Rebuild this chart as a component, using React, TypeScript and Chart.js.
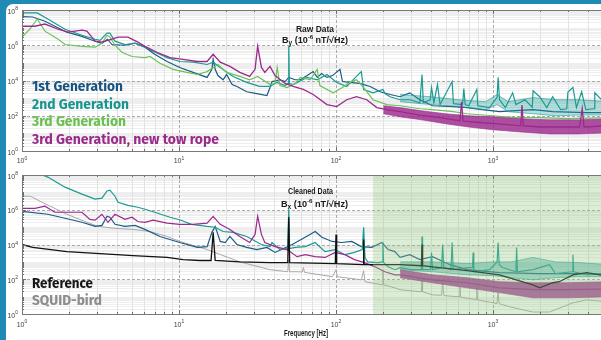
import React, { useEffect, useRef } from "react";
import { Chart, registerables } from "chart.js";

Chart.register(...registerables);

// ---------------- axis ticks ----------------
const xMajorTicks = [1, 10, 100, 1000];
const yMajorTicks = [1, 1e2, 1e4, 1e6, 1e8];
const cleanedBandStartHz = 172;

// ---------------- RAW DATA (top panel) ----------------
const gen1TopF = [1, 1.17, 1.4, 1.93, 2.41, 2.92, 3.23, 3.5, 3.74, 4.5, 5.25, 6.07, 7.0, 8.4, 10.1, 12.3, 15.1, 16.2, 16.5, 17.0, 17.7, 19.1, 20.1, 21.8, 23.4, 27, 31.3, 36.3, 38, 39.1, 44, 47.4, 50, 55, 59.2, 65.5, 71.6, 76, 81, 87.6, 95, 106, 110, 122, 141, 165, 191, 221, 256, 295, 342, 412, 557, 684, 855, 1100, 1800, 2400, 3950, 5500];
const gen1TopV = [4.2e7, 4.0e7, 2.3e7, 5.5e6, 3.2e6, 1.7e6, 1.3e6, 2.2e6, 1.1e6, 1.0e6, 1.3e6, 7.8e5, 3.1e5, 1.2e5, 5.5e4, 2.9e4, 1.5e4, 4.3e4, 1.6e5, 4.3e4, 1.9e4, 1.1e4, 2.2e4, 5.9e3, 4.6e3, 2.3e3, 1.8e3, 1.4e3, 4.0e3, 8.7e3, 1.1e4, 8.7e3, 1.5e4, 1.1e4, 1.1e4, 1.9e4, 3.2e4, 1.5e4, 2.5e4, 1.5e4, 1.9e4, 4.3e4, 8.7e3, 7.8e3, 6.8e3, 4.6e3, 2.3e3, 1.6e3, 1.2e3, 2.0e3, 8.1e2, 3.7e2, 3.3e2, 2.9e2, 2.2e2, 1.7e2, 2.2e2, 1.7e2, 1.5e2, 1.5e2];

const gen2TopF = [1, 1.25, 1.46, 1.88, 2.41, 2.92, 3.14, 3.48, 3.63, 3.91, 4.53, 5.25, 5.89, 6.84, 8.4, 10.1, 12.3, 15.1, 16.5, 18.3, 22.1, 27, 32.6, 38, 42, 47.4, 49.5, 50, 50.5, 53.3, 65.5, 75.9, 87.6, 101, 117, 135, 145, 150, 172, 199, 205, 221, 256, 295, 342, 353, 360, 398, 406, 420, 443, 460, 549, 560, 640, 652, 665, 700, 789, 800, 950, 1062, 1078, 1100, 1200, 1334, 1400, 1600, 1780, 1800, 1983, 2200, 2400, 2700, 2950, 3000, 3230, 3400, 3670, 3900, 4400, 4450, 5500];
const gen2TopV = [6.8e7, 6.8e7, 3.1e7, 8.1e6, 3.7e6, 2.2e6, 1.9e6, 4.9e6, 4.9e6, 1.7e6, 1.1e6, 1.3e6, 8.7e5, 4.6e5, 2.0e5, 1.2e5, 1.1e5, 8.1e4, 1.1e5, 5.5e4, 1.7e4, 7.8e3, 4.6e3, 4.6e3, 7.8e3, 5.2e3, 6.8e3, 8.7e5, 6.8e3, 5.9e3, 1.5e4, 1.1e4, 2.2e4, 7.8e3, 4.6e3, 1.7e4, 3.2e4, 3.1e3, 2.0e3, 3.1e3, 1.8e3, 1.2e3, 8.1e2, 8.1e2, 5.5e2, 2.2e4, 5.5e2, 8.1e2, 4.0e3, 5.5e2, 5.9e3, 4.3e2, 8.7e3, 4.9e2, 4.3e2, 3.5e3, 4.3e2, 3.7e2, 3.1e3, 3.7e2, 2.9e2, 1.1e3, 1.5e4, 8.1e2, 2.9e2, 2.0e3, 4.3e2, 8.1e2, 3.0e2, 2.6e3, 1.2e3, 2.9e2, 1.2e3, 2.2e2, 2.5e2, 2.2e3, 4.0e3, 2.9e2, 2.3e3, 2.2e2, 2.5e2, 2.0e3, 2.9e2];

const gen3TopF = [1, 1.12, 1.25, 1.4, 1.7, 1.88, 2.41, 2.92, 3.23, 3.48, 3.63, 3.91, 4.33, 5.02, 6.07, 6.54, 7.56, 9.16, 11.2, 13.1, 15.1, 17.7, 20.1, 24.4, 28.2, 31.7, 38, 40.9, 42.2, 44, 48.8, 55, 59.2, 68.5, 75.9, 78.9, 95.9, 110, 122, 135, 148, 172, 211, 256, 342, 412, 557, 684, 1000, 1400, 2000, 3000, 5500];
const gen3TopV = [2.9e6, 8.1e6, 3.1e7, 6.3e6, 2.2e6, 1.1e6, 8.7e5, 7.8e5, 1.3e6, 3.7e6, 2.9e6, 1.0e6, 4.0e5, 2.3e5, 2.0e5, 2.3e5, 9.4e4, 4.3e4, 2.9e4, 2.2e4, 3.2e4, 8.1e4, 2.9e4, 1.7e4, 1.1e4, 1.7e4, 5.9e3, 6.8e3, 5.5e4, 5.2e3, 4.0e3, 6.8e3, 1.5e4, 1.1e4, 4.3e4, 5.2e3, 2.0e3, 4.0e3, 7.8e3, 1.1e4, 4.6e3, 8.1e2, 4.3e2, 3.7e2, 2.5e2, 2.2e2, 1.7e2, 1.3e2, 1.0e2, 7.8e1, 7.8e1, 6.8e1, 7.8e1];

const gen3nTopF = [1, 1.21, 1.4, 1.7, 1.96, 2.41, 2.59, 2.92, 3.23, 3.74, 4.09, 4.73, 5.47, 6.07, 7.24, 8.77, 10.6, 13.1, 15.1, 16.5, 18.3, 21.1, 24.4, 28.2, 30.5, 31.7, 33.5, 35.2, 38, 40.9, 47.4, 53.3, 61.9, 71.6, 87.6, 101, 117, 135, 157, 182, 211, 256, 342, 457, 616, 630, 645, 855, 1100, 1500, 1530, 1560, 2000, 2640, 3560, 3700, 3800, 5500];
const gen3nTopV = [1.2e7, 1.2e7, 1.6e7, 8.1e6, 5.5e6, 7.2e6, 6.3e6, 1.7e6, 1.5e6, 2.2e6, 2.9e6, 2.9e6, 1.5e6, 8.7e5, 4.0e5, 2.0e5, 1.6e5, 1.2e5, 1.2e5, 3.1e5, 1.1e5, 6.3e4, 2.9e4, 1.7e4, 4.3e4, 8.7e5, 5.5e4, 2.9e4, 6.3e4, 1.9e4, 6.8e3, 4.6e3, 3.1e3, 1.6e3, 4.3e2, 3.3e2, 8.1e2, 1.2e3, 8.1e2, 2.9e2, 2.2e2, 1.7e2, 1.1e2, 7.8e1, 5.2e1, 6.0e2, 5.0e1, 4.0e1, 3.5e1, 2.7e1, 4.0e2, 2.7e1, 2.3e1, 2.3e1, 2.3e1, 2.5e2, 2.3e1, 2.7e1];

// noisy high-frequency envelopes (top)
const magBandTopF = [200, 256, 350, 500, 700, 1000, 1500, 2300, 3500, 5500];
const magBandTopUp = [3.7e2, 2.9e2, 1.9e2, 1.3e2, 1.0e2, 8.7e1, 6.7e1, 5.9e1, 5.9e1, 6.7e1];
const magBandTopLo = [1.3e2, 8.7e1, 5.9e1, 3.5e1, 2.3e1, 1.6e1, 1.2e1, 9.3, 9.3, 1.07e1];
const tealBandTopF = [256, 400, 600, 900, 1060, 1250, 1800, 2500, 3500, 5500];
const tealBandTopUp = [1.6e3, 1.2e3, 8.1e2, 6.3e2, 1.6e3, 6.3e2, 1.07e3, 8.1e2, 8.1e2, 6.3e2];
const tealBandTopLo = [6.3e2, 4.3e2, 3.3e2, 2.2e2, 4.3e2, 1.7e2, 1.3e2, 1.0e2, 1.1e2, 1.1e2];

// ---------------- CLEANED DATA (bottom panel) ----------------
const refBotF = [1, 1.17, 1.93, 3.14, 5.09, 8.4, 10.6, 13.6, 16.0, 16.5, 17.0, 24.4, 38, 49.3, 50, 50.7, 99, 100, 101, 149, 150, 151, 256, 350, 353, 356, 412, 684, 1100, 1795, 1983, 2400, 2640, 3230, 3950, 4800, 5500];
const refBotV = [1.0e4, 6.8e3, 3.9e3, 3.0e3, 2.3e3, 1.8e3, 1.35e3, 1.2e3, 1.2e3, 5.0e4, 1.2e3, 1.0e3, 9.1e2, 9.1e2, 3.7e5, 9.1e2, 8.0e2, 3.8e4, 8.0e2, 6.9e2, 1.95e4, 6.9e2, 6.9e2, 6.0e2, 1.0e4, 6.0e2, 5.2e2, 3.1e2, 1.8e2, 4.8e1, 3.2e1, 6.3e1, 7.2e1, 1.8e2, 2.4e2, 1.8e2, 1.4e2];

const squidBotF = [1, 1.12, 1.17, 1.34, 1.93, 2.52, 3.05, 3.91, 5.09, 6.54, 8.4, 10.1, 13.6, 15.1, 24.4, 38, 49.3, 50, 50.7, 57.4, 61, 62, 63, 95, 100, 102, 145, 150, 153, 197, 199, 201, 237, 256, 350, 353, 356, 412, 470, 478, 486, 610, 616, 622, 780, 789, 798, 1060, 1078, 1095, 1300, 1795, 2290, 3230, 3950, 5500];
const squidBotV = [6.0e6, 6.0e6, 5.2e6, 2.7e6, 5.5e5, 2.1e5, 1.1e5, 8.5e4, 7.4e4, 5.6e4, 2.9e4, 1.5e4, 6.8e3, 5.1e3, 1.0e3, 3.55e2, 2.7e2, 1.35e3, 2.7e2, 2.7e2, 2.6e2, 4.7e2, 2.5e2, 1.4e2, 3.55e2, 1.4e2, 9.3e1, 3.1e2, 7.2e1, 4.8e1, 3.1e2, 4.8e1, 3.2e1, 2.5e1, 1.9e1, 9.3e1, 1.9e1, 1.26e1, 1.2e1, 6.3e1, 1.15e1, 9.7, 3.7e1, 9.5, 6.6, 3.2e1, 6.5, 4.0, 1.7e1, 3.9, 2.5, 1.3, 1.3, 4.4, 6.5, 5.0];

const gen1BotF = [1, 1.46, 2.41, 2.92, 3.23, 3.48, 3.63, 3.91, 4.53, 5.25, 6.07, 7.56, 10.1, 13.1, 15.1, 16.2, 17.0, 18.3, 19.7, 21.1, 23.4, 27, 31.3, 36.3, 40.9, 52.6, 63.6, 73.7, 81.3, 94.5, 109, 126, 145, 169, 196, 215, 237, 256, 295, 342, 412, 532, 684, 1100, 2000, 3500, 5500];
const gen1BotV = [8.1e5, 5.5e5, 1.9e5, 1.1e5, 1.26e5, 4.2e5, 3.7e5, 1.45e5, 1.1e5, 1.26e5, 7.4e4, 2.9e4, 1.3e4, 6.8e3, 7.6e3, 5.0e4, 1.1e5, 1.5e4, 1.3e4, 2.9e4, 1.0e4, 6.8e3, 5.1e3, 6.8e3, 3.5e3, 1.0e4, 2.6e4, 5.6e4, 2.6e4, 1.5e4, 1.3e4, 1.5e4, 7.6e3, 6.8e3, 1.3e4, 5.1e3, 3.9e3, 1.8e3, 2.6e3, 1.35e3, 2.0e3, 6.9e2, 3.55e2, 2.4e2, 2.1e2, 2.1e2, 1.8e2];

const gen2BotF = [1, 1.3, 1.46, 1.88, 2.41, 2.92, 3.23, 3.48, 3.63, 3.91, 4.09, 4.73, 5.47, 6.07, 7.0, 8.77, 10.3, 12.0, 15.1, 17.0, 19.1, 22.1, 27, 33.5, 38, 39.1, 44, 49.3, 50, 50.7, 55, 63.6, 73.7, 85.1, 98.8, 114, 131, 147, 150, 153, 159, 185, 197, 199, 201, 215, 237, 256, 300, 350, 353, 356, 400, 406, 412, 470, 478, 486, 540, 549, 558, 700, 740, 747, 755, 950, 1062, 1078, 1095, 1150, 1400, 1414, 1430, 1800, 2290, 2500, 3200, 3230, 3260, 4000, 5500];
const gen2BotV = [5e8, 1.15e8, 7.6e7, 2.0e7, 7.9e6, 4.1e6, 4.7e6, 1.2e7, 1.35e7, 6.0e6, 2.7e6, 1.8e6, 1.4e6, 1.07e6, 7.2e5, 3.7e5, 2.5e5, 1.45e5, 1.1e5, 9.8e4, 5.6e4, 5.0e4, 2.9e4, 1.0e4, 7.6e3, 1.3e4, 5.1e3, 5.9e3, 1.07e6, 5.9e3, 6.8e3, 7.6e3, 1.3e4, 3.9e3, 5.1e3, 2.6e3, 3.5e3, 5.1e3, 9.8e4, 1.8e3, 1.0e3, 9.1e2, 1.0e3, 1.3e4, 9.1e2, 5.2e2, 3.55e2, 4.7e2, 3.55e2, 3.55e2, 2.9e4, 3.55e2, 3.55e2, 3.5e3, 3.55e2, 4.7e2, 1.0e4, 4.7e2, 3.55e2, 1.3e4, 3.55e2, 4.7e2, 4.7e2, 3.5e3, 2.7e2, 3.55e2, 1.0e3, 1.3e4, 6.9e2, 4.7e2, 2.7e2, 6.8e3, 2.7e2, 3.55e2, 6.9e2, 2.1e2, 2.7e2, 2.6e3, 2.7e2, 1.8e2, 2.4e2];

const gen3nBotF = [1, 1.21, 1.4, 1.62, 1.88, 2.41, 2.71, 2.92, 3.23, 3.53, 3.91, 4.53, 5.02, 5.47, 6.07, 6.84, 8.4, 10.1, 12.3, 15.1, 16.5, 18.3, 21.1, 24.4, 28.2, 30.5, 31.7, 33.5, 35.2, 40.9, 48.8, 56.5, 63.6, 73.7, 85.1, 98.8, 114, 131, 152, 177, 205, 237, 256, 412, 684, 1100, 1795, 2935, 4800, 5500];
const gen3nBotV = [1.2e6, 1.2e6, 1.6e6, 7.2e5, 7.2e5, 7.2e5, 2.8e5, 2.5e5, 5.5e5, 1.9e5, 5.5e5, 2.8e5, 3.7e5, 2.1e5, 1.9e5, 2.5e5, 1.7e5, 1.45e5, 1.45e5, 1.7e5, 4.2e5, 1.45e5, 7.4e4, 2.9e4, 1.3e4, 3.8e4, 4.2e5, 3.8e4, 1.3e4, 7.6e3, 5.1e3, 2.0e3, 2.6e3, 2.0e3, 1.8e3, 3.5e3, 2.6e3, 1.35e3, 9.1e2, 5.2e2, 2.7e2, 1.8e2, 1.8e2, 9.3e1, 6.3e1, 3.2e1, 2.5e1, 2.5e1, 2.7e1, 2.7e1];

// noisy high-frequency envelopes (bottom)
const magBandBotF = [256, 412, 684, 1100, 1795, 2935, 5500];
const magBandBotUp = [3.55e2, 1.8e2, 1.23e2, 7.2e1, 6.3e1, 6.3e1, 7.2e1];
const magBandBotLo = [1.23e2, 6.3e1, 3.2e1, 1.7e1, 8.5, 8.5, 9.7];
const tealBandBotF = [256, 412, 684, 1000, 1300, 1800, 2500, 3500, 5500];
const tealBandBotUp = [1.0e3, 1.0e3, 8.0e2, 1.0e3, 1.0e3, 1.8e3, 1.0e3, 9.1e2, 6.9e2];
const tealBandBotLo = [3.55e2, 2.7e2, 1.8e2, 1.6e2, 1.23e2, 9.3e1, 1.23e2, 1.4e2, 1.4e2];

// ---------------- styling ----------------
const C = {
  gen1: "#1c5a85",
  gen2: "#1a9a94",
  gen3: "#6cc25a",
  gen3n: "#9b2a8c",
  ref: "#111111",
  squid: "#a8a8a8",
  frame: "#1f8bb5",
};
const TF = '"Liberation Sans", Arial, sans-serif';
const LF = '"Fira Sans", "Noto Sans", "Open Sans", sans-serif';

const pts = (xs: number[], ys: number[]) => xs.map((x, i) => ({ x, y: ys[i] }));

function line(xs: number[], ys: number[], color: string, width: number, order: number) {
  return { data: pts(xs, ys), borderColor: color, borderWidth: width, pointRadius: 0, fill: false, order, tension: 0 };
}
function band(xs: number[], up: number[], lo: number[], color: string, fillColor: string, order: number) {
  return [
    { data: pts(xs, up), borderColor: color, borderWidth: 0.6, pointRadius: 0, fill: false, order, tension: 0 },
    { data: pts(xs, lo), borderColor: color, borderWidth: 0.6, pointRadius: 0, fill: "-1", backgroundColor: fillColor, order, tension: 0 },
  ];
}

type Part = { t: string; size: number; dy?: number };
type TextItem = { parts: Part[]; left: number; width: number; base: number; color: string; family: string; weight: string };

function drawParts(ctx: CanvasRenderingContext2D, it: TextItem) {
  let total = 0;
  const ws = it.parts.map((p) => {
    ctx.font = `${it.weight} ${p.size}px ${it.family}`;
    const w = ctx.measureText(p.t).width;
    total += w;
    return w;
  });
  const sx = it.width / total;
  ctx.save();
  ctx.translate(it.left, it.base);
  ctx.scale(sx, 1);
  ctx.fillStyle = it.color;
  ctx.textAlign = "left";
  ctx.textBaseline = "alphabetic";
  let x = 0;
  it.parts.forEach((p, i) => {
    ctx.font = `${it.weight} ${p.size}px ${it.family}`;
    ctx.fillText(p.t, x, p.dy || 0);
    x += ws[i];
  });
  ctx.restore();
}

function drawPow(ctx: CanvasRenderingContext2D, e: number, x: number, base: number, align: string) {
  const f1 = '7px "Liberation Sans", Arial, sans-serif';
  const f2 = '5px "Liberation Sans", Arial, sans-serif';
  ctx.font = f1;
  const w1 = ctx.measureText("10").width;
  ctx.font = f2;
  const w2 = ctx.measureText(String(e)).width;
  const start = align === "right" ? x - w1 - w2 : x - (w1 + w2) / 2;
  ctx.fillStyle = "#444";
  ctx.textAlign = "left";
  ctx.textBaseline = "alphabetic";
  ctx.font = f1;
  ctx.fillText("10", start, base);
  ctx.font = f2;
  ctx.fillText(String(e), start + w1, base - 3.3);
}

function minorValues(maxExp: number, includeOddDecades: boolean) {
  const out: number[] = [];
  for (let k = 0; k < maxExp; k++) {
    for (let m = 1; m <= 9; m++) {
      if (m === 1 && (!includeOddDecades || k % 2 === 0)) continue;
      out.push(m * Math.pow(10, k));
    }
  }
  return out;
}

function decorPlugin(cfg: { xLabelBase: number; green?: number; texts: TextItem[] }) {
  return {
    id: "decor",
    beforeDatasetsDraw(chart: any) {
      const { ctx, chartArea: a } = chart;
      const xs = chart.scales.x;
      const ys = chart.scales.y;
      ctx.save();
      ctx.lineWidth = 1;
      ctx.strokeStyle = "rgb(238,238,238)";
      ctx.beginPath();
      for (const v of minorValues(8, true)) {
        const p = Math.round(ys.getPixelForValue(v)) + 0.5;
        ctx.moveTo(a.left, p);
        ctx.lineTo(a.right, p);
      }
      ctx.stroke();
      ctx.strokeStyle = "rgb(226,226,226)";
      ctx.beginPath();
      for (const v of minorValues(4, false)) {
        const p = Math.round(xs.getPixelForValue(v)) + 0.5;
        ctx.moveTo(p, a.top);
        ctx.lineTo(p, a.bottom);
      }
      ctx.stroke();
      ctx.setLineDash([3, 2]);
      ctx.strokeStyle = "rgb(170,170,170)";
      ctx.beginPath();
      for (const v of xMajorTicks) {
        if (v <= 1) continue;
        const p = Math.round(xs.getPixelForValue(v)) + 0.5;
        ctx.moveTo(p, a.top);
        ctx.lineTo(p, a.bottom);
      }
      for (const v of yMajorTicks) {
        if (v <= 1 || v >= 1e8) continue;
        const p = Math.round(ys.getPixelForValue(v)) + 0.5;
        ctx.moveTo(a.left, p);
        ctx.lineTo(a.right, p);
      }
      ctx.stroke();
      ctx.restore();
    },
    afterDatasetsDraw(chart: any) {
      if (!cfg.green) return;
      const { ctx, chartArea: a } = chart;
      const x0 = chart.scales.x.getPixelForValue(cfg.green);
      ctx.save();
      ctx.fillStyle = "rgba(150,200,130,0.33)";
      ctx.fillRect(x0, a.top, a.right - x0, a.bottom - a.top);
      ctx.restore();
    },
    afterDraw(chart: any) {
      const { ctx, chartArea: a } = chart;
      const xs = chart.scales.x;
      const ys = chart.scales.y;
      ctx.save();
      ctx.strokeStyle = "rgb(110,110,110)";
      ctx.lineWidth = 1;
      ctx.beginPath();
      for (const v of minorValues(4, false)) {
        const p = Math.round(xs.getPixelForValue(v)) + 0.5;
        ctx.moveTo(p, a.bottom); ctx.lineTo(p, a.bottom - 2);
        ctx.moveTo(p, a.top); ctx.lineTo(p, a.top + 2);
      }
      for (const v of xMajorTicks) {
        const p = Math.round(xs.getPixelForValue(v)) + 0.5;
        ctx.moveTo(p, a.bottom); ctx.lineTo(p, a.bottom - 4);
        ctx.moveTo(p, a.top); ctx.lineTo(p, a.top + 4);
      }
      for (const v of minorValues(8, true)) {
        const p = Math.round(ys.getPixelForValue(v)) + 0.5;
        ctx.moveTo(a.left, p); ctx.lineTo(a.left + 2, p);
      }
      for (const v of yMajorTicks) {
        const p = Math.round(ys.getPixelForValue(v)) + 0.5;
        ctx.moveTo(a.left, p); ctx.lineTo(a.left + 4, p);
      }
      ctx.stroke();
      ctx.strokeStyle = "rgb(120,120,120)";
      ctx.beginPath();
      ctx.moveTo(a.right, Math.round(a.top) + 0.5);
      ctx.lineTo(Math.round(a.left) + 0.5, Math.round(a.top) + 0.5);
      ctx.lineTo(Math.round(a.left) + 0.5, Math.round(a.bottom) + 0.5);
      ctx.lineTo(a.right, Math.round(a.bottom) + 0.5);
      ctx.stroke();
      for (const v of yMajorTicks) {
        drawPow(ctx, Math.round(Math.log10(v)), 18, ys.getPixelForValue(v) + 3.5, "right");
      }
      for (const v of xMajorTicks) {
        drawPow(ctx, Math.round(Math.log10(v)), xs.getPixelForValue(v), cfg.xLabelBase, "center");
      }
      for (const t of cfg.texts) drawParts(ctx, t);
      ctx.restore();
    },
  };
}

function Panel(props: { top: number; padTop: number; padBottom: number; datasets: any[]; decor: any }) {
  const ref = useRef<HTMLCanvasElement>(null);
  useEffect(() => {
    const chart = new Chart(ref.current as HTMLCanvasElement, {
      type: "line",
      data: { datasets: props.datasets },
      options: {
        responsive: false,
        animation: false,
        devicePixelRatio: 1,
        events: [],
        layout: { padding: { left: 22, right: 0, top: props.padTop, bottom: props.padBottom } },
        scales: {
          x: { type: "logarithmic", min: 1, max: 1e4, display: false },
          y: { type: "logarithmic", min: 1, max: 1e8, display: false },
        },
        plugins: { legend: { display: false }, tooltip: { enabled: false } },
      } as any,
      plugins: [decorPlugin(props.decor)],
    } as any);
    return () => chart.destroy();
  }, []);
  return (
    <canvas
      ref={ref}
      width={650}
      height={170}
      style={{ position: "absolute", left: 0, top: props.top, width: 650, height: 170 }}
    />
  );
}

const legendItem = (t: string, base: number, width: number, color: string): TextItem => ({
  parts: [{ t, size: 13.5 }], left: 32, width, base, color, family: LF, weight: "bold",
});
const title = (t: string, left: number, width: number, base: number, size: number): TextItem => ({
  parts: [{ t, size }], left, width, base, color: "#1a1a1a", family: TF, weight: "bold",
});
const unitLine = (sub: string, base: number, left: number, width: number): TextItem => ({
  parts: [
    { t: "B", size: 9 },
    { t: sub, size: 6.5, dy: 2.5 },
    { t: " (10", size: 9 },
    { t: "-6", size: 6, dy: -3.5 },
    { t: " nT/\u221AHz)", size: 9 },
  ],
  left, width, base, color: "#1a1a1a", family: TF, weight: "bold",
});

const topTexts: TextItem[] = [
  title("Raw Data", 296, 38, 31.5, 9),
  unitLine("y", 42.5, 282, 66),
  legendItem("1st Generation", 91, 91, "#175480"),
  legendItem("2nd Generation", 108.5, 97, "#17958f"),
  legendItem("3rd Generation", 126, 94, "#6cc04f"),
  legendItem("3rd Generation, new tow rope", 143.5, 187, "#9a2b8a"),
];
const botTexts: TextItem[] = [
  title("Cleaned Data", 288, 45, 23.5, 8.5),
  unitLine("x", 36.5, 281, 67),
  legendItem("Reference", 118, 61, "#161616"),
  legendItem("SQUID-bird", 135, 70, "#8c8c8c"),
  title("Frequency [Hz]", 284, 44, 166, 8.5),
];

const topSets = [
  line(gen3nTopF, gen3nTopV, C.gen3n, 1.3, 1),
  ...band(magBandTopF, magBandTopUp, magBandTopLo, C.gen3n, "rgba(155,42,140,0.82)", 2),
  line(gen3TopF, gen3TopV, C.gen3, 1.2, 3),
  line(gen2TopF, gen2TopV, C.gen2, 1.2, 4),
  ...band(tealBandTopF, tealBandTopUp, tealBandTopLo, C.gen2, "rgba(26,154,148,0.32)", 5),
  line(gen1TopF, gen1TopV, C.gen1, 1.2, 6),
];

const botSets = [
  line(refBotF, refBotV, C.ref, 1.3, 1),
  line(gen3nBotF, gen3nBotV, C.gen3n, 1.2, 2),
  ...band(magBandBotF, magBandBotUp, magBandBotLo, C.gen3n, "rgba(155,42,140,0.8)", 3),
  line(gen2BotF, gen2BotV, C.gen2, 1.2, 4),
  ...band(tealBandBotF, tealBandBotUp, tealBandBotLo, C.gen2, "rgba(26,154,148,0.38)", 5),
  line(gen1BotF, gen1BotV, C.gen1, 1.2, 6),
  line(squidBotF, squidBotV, C.squid, 1.0, 7),
];

export default function App() {
  return (
    <div
      style={{
        position: "fixed",
        left: 0,
        top: 0,
        width: 601,
        height: 340,
        overflow: "hidden",
        background: C.frame,
      }}
    >
      <div
        style={{
          position: "absolute",
          left: 6,
          top: 4,
          width: 700,
          height: 400,
          background: "#ffffff",
          borderTopLeftRadius: 7,
        }}
      />
      <Panel top={0} padTop={10} padBottom={19} datasets={topSets} decor={{ xLabelBase: 163, texts: topTexts }} />
      <Panel
        top={170}
        padTop={5}
        padBottom={26}
        datasets={botSets}
        decor={{ xLabelBase: 156.5, green: cleanedBandStartHz, texts: botTexts }}
      />
    </div>
  );
}
